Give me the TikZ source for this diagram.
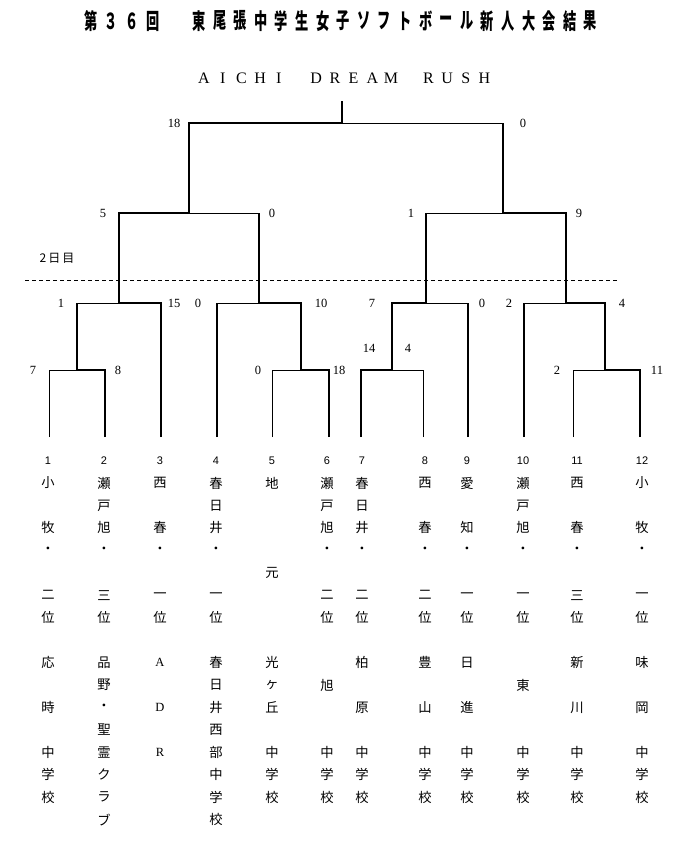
\documentclass[tikz,border=0pt]{standalone}
\usepackage{fontspec}
\newfontfamily\jp{Noto Sans CJK JP}
\newfontfamily\numserif{Liberation Serif}
\newfontfamily\numsans{Liberation Sans}
\tikzset{
  bthick/.style={line width=2.9pt, line join=miter, line cap=butt},
  bthin/.style={line width=0.9pt, line join=miter},
  score/.style={font=\numserif\fontsize{12.5}{12.5}\selectfont, inner sep=0pt},
  jpc/.style={font=\jp\fontsize{13.3}{13.3}\selectfont, inner sep=0pt},
  numc/.style={font=\numsans\fontsize{11}{11}\selectfont, inner sep=0pt},
  ttl/.style={font=\jp\bfseries\fontsize{22}{22}\selectfont, inner sep=0pt},
  sub/.style={font=\numserif\fontsize{16}{16}\selectfont, inner sep=0pt},
  daylbl/.style={font=\jp\fontsize{12}{12}\selectfont, inner sep=0pt},
}
\newcommand\teamcol[3]{%
  \foreach \rw/\ch [count=\k] in {#3}
    \node[jpc] (c#1-\k) at (#2, {483+22.45*(\rw-1)}) {\ch};
}
\newcommand\narrow[1]{\scalebox{0.6}[1]{#1}}
\begin{document}
\begin{tikzpicture}[x=1pt,y=-1pt]
\useasboundingbox (0,0) rectangle (700,859);
% ---------- title ----------
\node[ttl] (tA) at (91,21) {\narrow{第}};
\node[ttl] (tB) at (111,21) {\narrow{３}};
\node[ttl] (tC) at (132,21) {\narrow{６}};
\node[ttl] (tD) at (153,21) {\narrow{回}};
\foreach \ch [count=\i from 0] in {東,尾,張,中,学,生,女,子,ソ,フ,ト,ボ,ー,ル,新,人,大,会,結,果}
  \node[ttl] (ti\i) at ({199+20.6*\i},21) {\narrow{\ch}};
\foreach \p/\ch in {0/A,1/I,2/C,3/H,4/I,6/D,7/R,8/E,9/A,10/M,12/R,13/U,14/S,15/H}
  \node[sub] (sa\p) at ({204+18.7*\p},78) {\ch};
% ---------- coordinates ----------
\foreach \n/\x/\t in {1/49/370,2/105/370,3/161/303,4/217/303,5/272/370,6/329/370,
                       7/361/370,8/423/370,9/468/303,10/524/303,11/573/370,12/640/370}{
  \coordinate (b\n) at (\x,437);
  \coordinate (t\n) at (\x,\t);
}
\coordinate (j1) at (77,370);  \coordinate (k1) at (77,303);
\coordinate (j2) at (119,303); \coordinate (k2) at (119,213);
\coordinate (j3) at (301,370); \coordinate (k3) at (301,303);
\coordinate (j4) at (259,303); \coordinate (k4) at (259,213);
\coordinate (js1) at (189,213); \coordinate (ks1) at (189,123);
\coordinate (j5) at (392,370); \coordinate (k5) at (392,303);
\coordinate (j6) at (426,303); \coordinate (k6) at (426,213);
\coordinate (j7) at (605,370); \coordinate (k7) at (605,303);
\coordinate (j8) at (566,303); \coordinate (k8) at (566,213);
\coordinate (js2) at (503,213); \coordinate (ks2) at (503,123);
\coordinate (jf) at (342,123); \coordinate (kf) at (342,101);
\coordinate (dl) at (25,280); \coordinate (dr) at (617,280);
% ---------- thin lines ----------
\draw[bthin] (b1) -- (t1) -- (j1);
\draw[bthin] (k1) -- (j2);
\draw[bthin] (t4) -- (j4);
\draw[bthin] (b5) -- (t5) -- (j3);
\draw[bthin] (js1) -- (k4);
\draw[bthin] (b8) -- (t8) -- (j5);
\draw[bthin] (j6) -- (t9);
\draw[bthin] (b11) -- (t11) -- (j7);
\draw[bthin] (t10) -- (j8);
\draw[bthin] (k6) -- (js2);
\draw[bthin] (jf) -- (ks2);
% ---------- thick lines ----------
\draw[bthick] (b2) -- (t2) -- (j1) -- (k1);
\draw[bthick] (b3) -- (t3) -- (j2) -- (k2) -- (js1) -- (ks1) -- (jf) -- (kf);
\draw[bthick] (b4) -- (t4);
\draw[bthick] (b6) -- (t6) -- (j3) -- (k3) -- (j4) -- (k4);
\draw[bthick] (b7) -- (t7) -- (j5) -- (k5) -- (j6) -- (k6);
\draw[bthick] (b9) -- (t9);
\draw[bthick] (b10) -- (t10);
\draw[bthick] (b12) -- (t12) -- (j7) -- (k7) -- (j8) -- (k8) -- (js2) -- (ks2);
% ---------- day-2 divider ----------
\draw[line width=0.8pt, dash pattern=on 4pt off 3pt] (dl) -- (dr);
\node[daylbl] (day2) at (57,258) {2\hspace{2pt}日\hspace{2pt}目};
% ---------- scores ----------
\node[score] (s1a) at (33,370) {7};
\node[score] (s1b) at (118,370) {8};
\node[score] (s2a) at (61,303) {1};
\node[score] (s2b) at (174,303) {15};
\node[score] (s3a) at (258,370) {0};
\node[score] (s3b) at (339,370) {18};
\node[score] (s4a) at (198,303) {0};
\node[score] (s4b) at (321,303) {10};
\node[score] (ss1a) at (103,213) {5};
\node[score] (ss1b) at (272,213) {0};
\node[score] (sfa) at (174,123) {18};
\node[score] (sfb) at (523,123) {0};
\node[score] (ss2a) at (411,213) {1};
\node[score] (ss2b) at (579,213) {9};
\node[score] (s6a) at (372,303) {7};
\node[score] (s6b) at (482,303) {0};
\node[score] (s5a) at (369,348) {14};
\node[score] (s5b) at (408,348) {4};
\node[score] (s8a) at (509,303) {2};
\node[score] (s8b) at (622,303) {4};
\node[score] (s7a) at (557,370) {2};
\node[score] (s7b) at (657,370) {11};
% ---------- team numbers ----------
\foreach \n/\x in {1/48,2/104,3/160,4/216,5/272,6/327,7/362,8/425,9/467,10/523,11/577,12/642}
  \node[numc] (n\n) at (\x,461) {\n};
% ---------- team names ----------
\teamcol{1}{48}{1/小,3/牧,4/・,6/二,7/位,9/応,11/時,13/中,14/学,15/校}
\teamcol{2}{104}{1/瀬,2/戸,3/旭,4/・,6/三,7/位,9/品,10/野,11/・,12/聖,13/霊,14/ク,15/ラ,16/ブ}
\teamcol{3}{160}{1/西,3/春,4/・,6/一,7/位}
\node[score] (c3-A) at (160,{483+22.45*8}) {A};
\node[score] (c3-D) at (160,{483+22.45*10}) {D};
\node[score] (c3-R) at (160,{483+22.45*12}) {R};
\teamcol{4}{216}{1/春,2/日,3/井,4/・,6/一,7/位,9/春,10/日,11/井,12/西,13/部,14/中,15/学,16/校}
\teamcol{5}{272}{1/地,5/元,9/光,10/ヶ,11/丘,13/中,14/学,15/校}
\teamcol{6}{327}{1/瀬,2/戸,3/旭,4/・,6/二,7/位,10/旭,13/中,14/学,15/校}
\teamcol{7}{362}{1/春,2/日,3/井,4/・,6/二,7/位,9/柏,11/原,13/中,14/学,15/校}
\teamcol{8}{425}{1/西,3/春,4/・,6/二,7/位,9/豊,11/山,13/中,14/学,15/校}
\teamcol{9}{467}{1/愛,3/知,4/・,6/一,7/位,9/日,11/進,13/中,14/学,15/校}
\teamcol{10}{523}{1/瀬,2/戸,3/旭,4/・,6/一,7/位,10/東,13/中,14/学,15/校}
\teamcol{11}{577}{1/西,3/春,4/・,6/三,7/位,9/新,11/川,13/中,14/学,15/校}
\teamcol{12}{642}{1/小,3/牧,4/・,6/一,7/位,9/味,11/岡,13/中,14/学,15/校}
\end{tikzpicture}
\end{document}
